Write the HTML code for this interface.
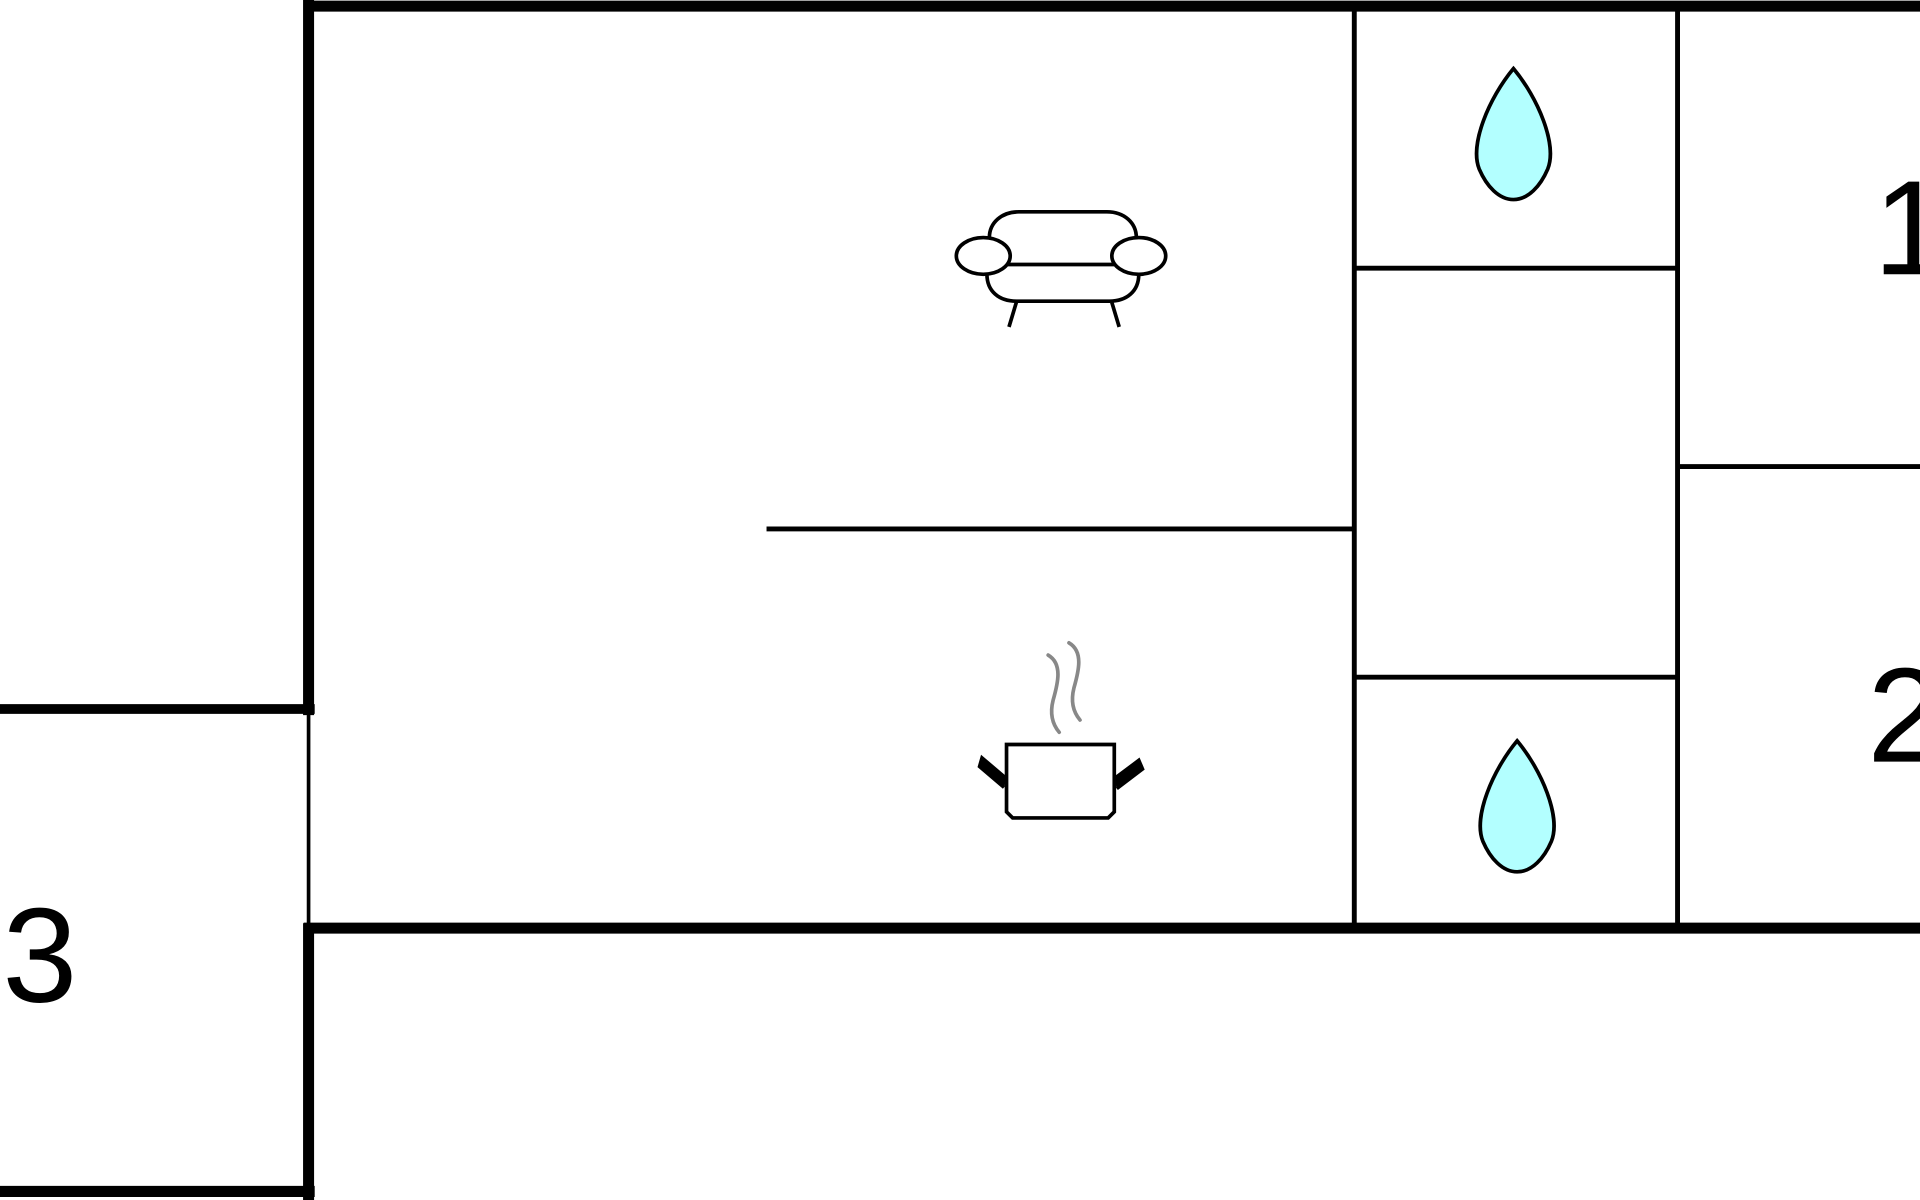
<!DOCTYPE html>
<html><head><meta charset="utf-8"><style>html,body{margin:0;padding:0;background:#fff;overflow:hidden}svg{display:block}</style></head>
<body>
<svg width="1920" height="1200" viewBox="0 0 1568 980" xmlns="http://www.w3.org/2000/svg">
<rect width="1568" height="980" fill="#fff"/>
<g stroke="#000" fill="none" stroke-linecap="butt">
<line x1="248" y1="5" x2="1568" y2="5" stroke-width="9"/>
<line x1="252" y1="0" x2="252" y2="584" stroke-width="9"/>
<line x1="0" y1="579" x2="257" y2="579" stroke-width="8"/>
<line x1="252" y1="583" x2="252" y2="756" stroke-width="3"/>
<line x1="248" y1="758" x2="1568" y2="758" stroke-width="9"/>
<line x1="252" y1="754" x2="252" y2="980" stroke-width="9"/>
<line x1="0" y1="973" x2="257" y2="973" stroke-width="9"/>
<line x1="1106" y1="5" x2="1106" y2="758" stroke-width="4"/>
<line x1="1370" y1="5" x2="1370" y2="758" stroke-width="4"/>
<line x1="1106" y1="219" x2="1370" y2="219" stroke-width="4"/>
<line x1="1106" y1="553" x2="1370" y2="553" stroke-width="4"/>
<line x1="1370" y1="381" x2="1568" y2="381" stroke-width="4"/>
<line x1="626" y1="432" x2="1106" y2="432" stroke-width="4"/>
</g>
<g font-family="Liberation Sans, sans-serif" font-size="110" fill="#000">
<text x="1530" y="224">1</text>
<text x="1525" y="622">2</text>
<text x="2" y="818">3</text>
</g>
<g fill="#b3ffff" stroke="#000" stroke-width="3">
<path d="M1236,56 C1256,80 1272,118 1264,138 C1258,152 1248,163 1236,163 C1224,163 1214,152 1208,138 C1200,118 1216,80 1236,56 Z"/>
<path d="M1239,605 C1259,629 1275,667 1267,687 C1261,701 1251,712 1239,712 C1227,712 1217,701 1211,687 C1203,667 1219,629 1239,605 Z"/>
</g>
<g stroke="#000" stroke-width="3" fill="#fff">
<path d="M808,194 C808,182 818,173 832,173 L904,173 C918,173 928,182 928,194"/>
<path d="M806,224 C806,238 816,246 830,246 L906,246 C920,246 930,238 930,224"/>
<line x1="822" y1="216" x2="912" y2="216"/>
<line x1="830" y1="247" x2="824" y2="267"/>
<line x1="908" y1="247" x2="914" y2="267"/>
<ellipse cx="803" cy="209" rx="22" ry="15"/>
<ellipse cx="930" cy="209" rx="22" ry="15"/>
<path d="M822,608 L910,608 L910,663 L905,668 L827,668 L822,663 Z"/>
<path d="M822,636 L802,619 L800,626 L820,643" fill="#000"/>
<path d="M910,636 L930,621 L933,628 L912,644" fill="#000"/>
</g>
<g stroke="#888" stroke-width="3" fill="none" stroke-linecap="round">
<path d="M856,535 C868,542 864,558 860,572 C857,584 860,592 865,598"/>
<path d="M873,525 C885,532 881,548 877,562 C874,574 877,582 882,588"/>
</g>
</svg>
</body></html>
